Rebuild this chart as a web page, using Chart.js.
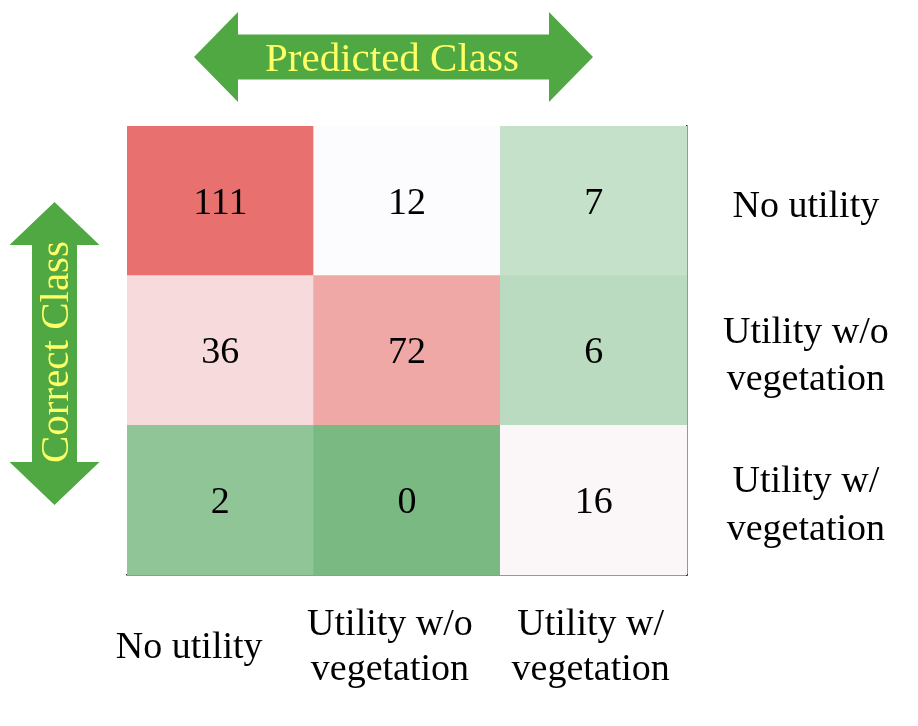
<!DOCTYPE html>
<html><head><meta charset="utf-8">
<script src="https://cdn.jsdelivr.net/npm/chart.js@4.4.0/dist/chart.umd.min.js"></script>
<style>html,body{margin:0;padding:0;background:#fff;}#wrap{width:918px;height:726px;position:relative;}</style>
</head><body><div id="wrap"><canvas id="c"></canvas></div>
<script>
// ---- data ----
const predictedClasses = [["No utility"], ["Utility w/o", "vegetation"], ["Utility w/", "vegetation"]];
const correctClasses = [["No utility"], ["Utility w/o", "vegetation"], ["Utility w/", "vegetation"]];
const rowNoUtility = [111, 12, 7];
const rowUtilityWithout = [36, 72, 6];
const rowUtilityWith = [2, 0, 16];
const matrixRows = [rowNoUtility, rowUtilityWithout, rowUtilityWith];
const axisTitles = ["Predicted Class", "Correct Class"];

// ---- 3-colour scale (min -> green, median -> white, max -> red) ----
const allValues = matrixRows.flat().slice().sort((a, b) => a - b);
const vMin = allValues[0], vMax = allValues[allValues.length - 1];
const vMid = allValues[Math.floor(allValues.length / 2)];
const cLow = [122, 186, 130], cMid = [252, 252, 254], cHigh = [232, 113, 111];
function mix(a, b, t) { return 'rgb(' + a.map((v, i) => Math.round(v + (b[i] - v) * t)).join(',') + ')'; }
function cellColor(v) {
  if (v <= vMid) return mix(cLow, cMid, (v - vMin) / (vMid - vMin));
  return mix(cMid, cHigh, (v - vMid) / (vMax - vMid));
}

const SERIF = '"Liberation Serif", "Times New Roman", serif';
const rowFont = { family: SERIF, size: 38, lineHeight: 1.26 };
const colFont = { family: SERIF, size: 38, lineHeight: 1.19 };

const datasets = matrixRows.map((row, r) => ({
  label: correctClasses[r].join(' '),
  data: row.map(() => 1),
  counts: row,
  backgroundColor: row.map(cellColor),
  borderWidth: 0,
  barPercentage: 1,
  categoryPercentage: 1,
  xAxisID: 'x',
  yAxisID: 'y'
})).reverse();

function drawDoubleArrow(ctx, horizontal, a, b, c, headHalf, shaftHalf, headLen) {
  ctx.beginPath();
  if (horizontal) {
    ctx.moveTo(a, c);
    ctx.lineTo(a + headLen, c - headHalf);
    ctx.lineTo(a + headLen, c - shaftHalf);
    ctx.lineTo(b - headLen, c - shaftHalf);
    ctx.lineTo(b - headLen, c - headHalf);
    ctx.lineTo(b, c);
    ctx.lineTo(b - headLen, c + headHalf);
    ctx.lineTo(b - headLen, c + shaftHalf);
    ctx.lineTo(a + headLen, c + shaftHalf);
    ctx.lineTo(a + headLen, c + headHalf);
  } else {
    ctx.moveTo(c, a);
    ctx.lineTo(c + headHalf, a + headLen);
    ctx.lineTo(c + shaftHalf, a + headLen);
    ctx.lineTo(c + shaftHalf, b - headLen);
    ctx.lineTo(c + headHalf, b - headLen);
    ctx.lineTo(c, b);
    ctx.lineTo(c - headHalf, b - headLen);
    ctx.lineTo(c - shaftHalf, b - headLen);
    ctx.lineTo(c - shaftHalf, a + headLen);
    ctx.lineTo(c - headHalf, a + headLen);
  }
  ctx.closePath();
  ctx.fillStyle = '#4fa842';
  ctx.fill();
}

const overlay = {
  id: 'overlay',
  afterDraw(chart) {
    const ctx = chart.ctx;
    ctx.save();
    // cell values
    ctx.font = '38px ' + SERIF;
    ctx.fillStyle = '#000';
    ctx.textAlign = 'center';
    ctx.textBaseline = 'middle';
    chart.data.datasets.forEach((ds, d) => {
      const meta = chart.getDatasetMeta(d);
      meta.data.forEach((el, i) => {
        ctx.fillText(String(ds.counts[i]), el.x, (el.y + el.base) / 2 + 3);
      });
    });
    // arrows
    drawDoubleArrow(ctx, true, 194, 593, 57, 45, 22.5, 44);
    drawDoubleArrow(ctx, false, 202, 505, 54.5, 45, 22.5, 43);
    ctx.fillStyle = '#ffff66';
    ctx.font = '41px ' + SERIF;
    ctx.textBaseline = 'alphabetic';
    ctx.textAlign = 'center';
    ctx.fillText(axisTitles[0], 392, 71);
    ctx.save();
    ctx.translate(68, 352);
    ctx.rotate(-Math.PI / 2);
    ctx.fillText(axisTitles[1], 0, 0);
    ctx.restore();
    ctx.restore();
  }
};

new Chart(document.getElementById('c'), {
  type: 'bar',
  data: { labels: predictedClasses.map(l => l.join(' ')), datasets },
  options: {
    responsive: true,
    maintainAspectRatio: false,
    devicePixelRatio: 1,
    animation: false,
    events: [],
    layout: { padding: { left: 127, top: 126, right: 0, bottom: 0 } },
    plugins: { legend: { display: false }, tooltip: { enabled: false } },
    scales: {
      x: { type: 'category', stacked: true, display: false, offset: true },
      y: { type: 'linear', stacked: true, min: 0, max: 3, display: false },
      rowAxis: {
        type: 'category', position: 'right', labels: correctClasses, offset: true,
        grid: { display: false, drawTicks: false },
        border: { display: true, color: '#333', width: 1.5 },
        ticks: { font: rowFont, color: '#000', crossAlign: 'center', padding: 36, autoSkip: false, labelOffset: 6 },
        afterFit: s => { s.width = 231; }
      },
      colAxis: {
        type: 'linear', position: 'bottom', min: -0.31, max: 2.48, offset: false, beginAtZero: false,
        grid: { display: false, drawTicks: false, offset: false },
        border: { display: true, color: '#333', width: 1.5 },
        afterBuildTicks: s => { s.ticks = predictedClasses.map((_, i) => ({ value: i })); },
        ticks: { font: colFont, color: '#000', crossAlign: 'center', padding: 50, autoSkip: false,
                 maxRotation: 0, minRotation: 0, callback: v => predictedClasses[v] },
        afterFit: s => { s.height = 151; }
      }
    }
  },
  plugins: [overlay]
});
</script>
</body></html>
